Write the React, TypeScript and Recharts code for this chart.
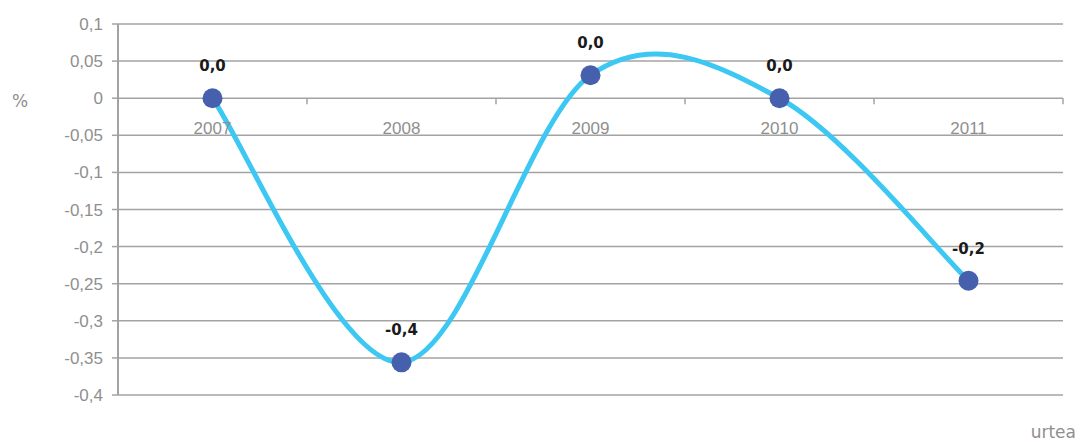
import React from 'react';
import { LineChart, Line, XAxis, YAxis, CartesianGrid, LabelList } from 'recharts';

const categories = ['2007', '2008', '2009', '2010', '2011'];
const values = [0.0, -0.356, 0.031, 0.0, -0.246];
const yTicks = [0.1, 0.05, 0, -0.05, -0.1, -0.15, -0.2, -0.25, -0.3, -0.35, -0.4];
const yAxisUnit = '%';
const xAxisTitle = 'urtea';

const data = categories.map((c, i) => ({ year: c, value: values[i] }));

const W = 1078;
const H = 447;
const PLOT_TOP = 24;
const PLOT_BOTTOM = 395;
const PLOT_LEFT = 118;
const PLOT_RIGHT = 1063;
const Y_MIN = -0.4;
const Y_MAX = 0.1;
const BAND = (PLOT_RIGHT - PLOT_LEFT) / categories.length;
const ZERO_Y = PLOT_TOP + ((Y_MAX - 0) / (Y_MAX - Y_MIN)) * (PLOT_BOTTOM - PLOT_TOP);

const GRID = '#a3a3a3';
const TEXT = '#8f8f8f';

// Excel-like smoothing (Catmull-Rom via cubic Bezier)
function smoothCurve(context: any) {
  let pts: number[][] = [];
  return {
    areaStart() {},
    areaEnd() {},
    lineStart() {
      pts = [];
    },
    point(x: number, y: number) {
      pts.push([+x, +y]);
    },
    lineEnd() {
      if (!pts.length) return;
      context.moveTo(pts[0][0], pts[0][1]);
      for (let i = 0; i < pts.length - 1; i++) {
        const p0 = pts[i - 1] || pts[i];
        const p1 = pts[i];
        const p2 = pts[i + 1];
        const p3 = pts[i + 2] || pts[i + 1];
        const c1x = p1[0] + (p2[0] - p0[0]) / 6;
        const c1y = p1[1] + (p2[1] - p0[1]) / 6;
        const c2x = p2[0] - (p3[0] - p1[0]) / 6;
        const c2y = p2[1] - (p3[1] - p1[1]) / 6;
        context.bezierCurveTo(c1x, c1y, c2x, c2y, p2[0], p2[1]);
      }
    },
  };
}

const fmt = (v: number) => String(v).replace('.', ',');

const XTick = (props: any) => {
  const { x, payload } = props;
  return (
    <g>
      <text
        x={x}
        y={ZERO_Y + 36}
        textAnchor="middle"
        fontFamily="'Liberation Sans', Arial, sans-serif"
        fontSize={17}
        fill={TEXT}
      >
        {payload.value}
      </text>
      <line x1={x + BAND / 2} y1={ZERO_Y} x2={x + BAND / 2} y2={ZERO_Y + 6} stroke={GRID} strokeWidth={1.5} />
    </g>
  );
};

const DataLabel = (props: any) => {
  const { x, y, value } = props;
  return (
    <text
      x={x}
      y={y - 27}
      textAnchor="middle"
      fontFamily="'DejaVu Sans', sans-serif"
      fontWeight="bold"
      fontSize={15}
      fill="#1a1a1a"
    >
      {Number(value).toFixed(1).replace('.', ',')}
    </text>
  );
};

export default function App() {
  return (
    <div style={{ position: 'absolute', left: 0, top: 0, width: W, height: H, background: '#fff' }}>
      <LineChart
        width={W}
        height={H}
        data={data}
        margin={{ top: PLOT_TOP, right: W - PLOT_RIGHT, bottom: H - PLOT_BOTTOM - 30, left: PLOT_LEFT - 60 }}
      >
        <CartesianGrid horizontal vertical={false} stroke={GRID} strokeWidth={1.5} />
        <XAxis
          dataKey="year"
          height={30}
          axisLine={false}
          tickLine={false}
          padding={{ left: BAND / 2, right: BAND / 2 }}
          tick={<XTick />}
          interval={0}
        />
        <YAxis
          width={60}
          domain={[Y_MIN, Y_MAX]}
          ticks={yTicks}
          allowDataOverflow
          tickFormatter={fmt}
          axisLine={{ stroke: GRID, strokeWidth: 2 }}
          tickLine={{ stroke: GRID, strokeWidth: 1.5 }}
          tickSize={6}
          tickMargin={9}
          tick={{ fill: TEXT, fontSize: 17, fontFamily: "'Liberation Sans', Arial, sans-serif" }}
        />
        <Line
          dataKey="value"
          type={smoothCurve as any}
          stroke="#3cc8f2"
          strokeWidth={5}
          dot={{ r: 10, fill: '#4660ad', stroke: 'none', strokeWidth: 0 }}
          activeDot={false}
          isAnimationActive={false}
        >
          <LabelList dataKey="value" content={<DataLabel />} />
        </Line>
      </LineChart>
      <div
        style={{
          position: 'absolute',
          left: 12,
          top: 93,
          fontFamily: "'DejaVu Sans', sans-serif",
          fontSize: 17,
          lineHeight: '17px',
          color: TEXT,
        }}
      >
        {yAxisUnit}
      </div>
      <div
        style={{
          position: 'absolute',
          right: 2,
          top: 424,
          fontFamily: "'DejaVu Sans', sans-serif",
          fontSize: 17,
          lineHeight: '17px',
          color: TEXT,
        }}
      >
        {xAxisTitle}
      </div>
    </div>
  );
}
